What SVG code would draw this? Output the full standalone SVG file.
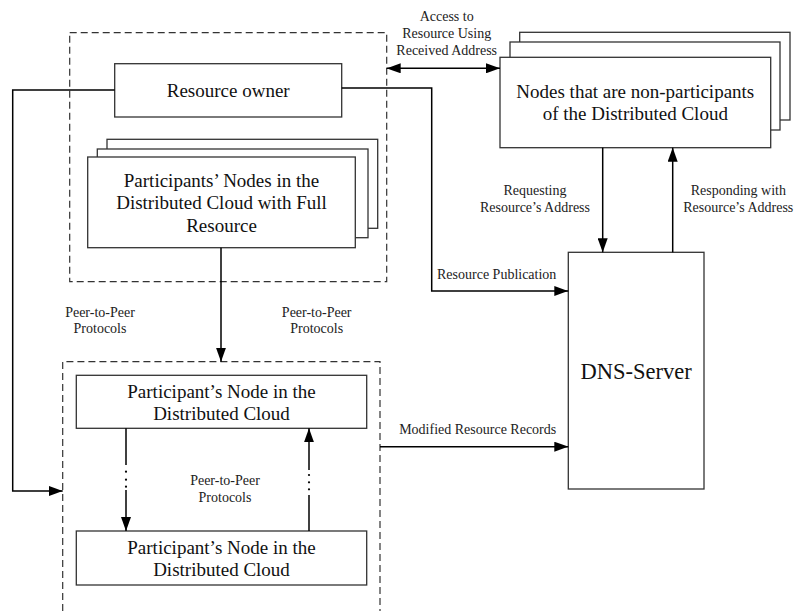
<svg xmlns="http://www.w3.org/2000/svg" width="795" height="611" viewBox="0 0 795 611">
  <style>
    .box { fill: #fff; stroke: #333; stroke-width: 1.3; }
    .group { fill: none; stroke: #333; stroke-width: 1.2; stroke-dasharray: 7 4; }
    .wire { fill: none; stroke: #000; stroke-width: 1.5; }
    .big { font-family: "Liberation Serif", "Times New Roman", serif; font-size: 19px; fill: #111; text-anchor: middle; }
    .dns { font-family: "Liberation Serif", "Times New Roman", serif; font-size: 22.5px; fill: #111; text-anchor: middle; }
    .small { font-family: "Liberation Serif", "Times New Roman", serif; font-size: 14px; fill: #222; text-anchor: middle; }
    .dot { fill: #000; }
  </style>
  <defs>
    <marker id="arrow" viewBox="0 0 14 10" refX="14" refY="5" markerWidth="14" markerHeight="10" markerUnits="userSpaceOnUse" orient="auto-start-reverse">
      <path d="M0,0 L14,5 L0,10 Z" fill="#000"/>
    </marker>
  </defs>

  <rect width="795" height="611" fill="#fff"/>

  <!-- dashed groupings -->
  <g id="cloud-owner-group">
    <rect class="group" x="69.7" y="32.7" width="317" height="249"/>
  </g>
  <g id="cloud-participants-group">
    <path class="group" d="M62.7,611 V361.7 H380 V611"/>
  </g>

  <!-- nodes -->
  <g id="resource-owner">
    <rect class="box" x="114.7" y="63.7" width="227" height="53.3"/>
    <text class="big" x="228.2" y="96.5">Resource owner</text>
  </g>

  <g id="full-resource-nodes">
    <rect class="box" x="107" y="139.3" width="270.7" height="89"/>
    <rect class="box" x="97.3" y="149" width="270.7" height="88.7"/>
    <rect class="box" x="87.7" y="157" width="267.6" height="90.7"/>
    <text class="big" x="221.5" y="186.5">Participants’ Nodes in the</text>
    <text class="big" x="221.5" y="209">Distributed Cloud with Full</text>
    <text class="big" x="221.5" y="231.5">Resource</text>
  </g>

  <g id="non-participants">
    <rect class="box" x="519.7" y="32.3" width="270.3" height="87.7"/>
    <rect class="box" x="510" y="42" width="270" height="88"/>
    <rect class="box" x="500" y="57.3" width="270.7" height="90.4"/>
    <text class="big" x="635.3" y="98">Nodes that are non-participants</text>
    <text class="big" x="635.3" y="120">of the Distributed Cloud</text>
  </g>

  <g id="dns-server">
    <rect class="box" x="568.3" y="252.3" width="135.7" height="236.7"/>
    <text class="dns" x="636.2" y="378.5">DNS-Server</text>
  </g>

  <g id="participant-node-1">
    <rect class="box" x="76.3" y="375.3" width="290.4" height="53"/>
    <text class="big" x="221.5" y="398">Participant’s Node in the</text>
    <text class="big" x="221.5" y="420">Distributed Cloud</text>
  </g>

  <g id="participant-node-2">
    <rect class="box" x="76.3" y="531" width="290.4" height="54"/>
    <text class="big" x="221.5" y="554">Participant’s Node in the</text>
    <text class="big" x="221.5" y="576">Distributed Cloud</text>
  </g>

  <!-- connectors -->
  <g id="connectors">
    <!-- owner to participant group (left loop) -->
    <path class="wire" d="M114.7,90 H12.7 V491 H62.7" marker-end="url(#arrow)"/>
    <!-- resource publication -->
    <path class="wire" d="M341.7,88 H431.7 V291 H568.3" marker-end="url(#arrow)"/>
    <!-- access to resource, both ways -->
    <path class="wire" d="M386.7,68.3 H500" marker-start="url(#arrow)" marker-end="url(#arrow)"/>
    <!-- full-resource nodes to participant group -->
    <path class="wire" d="M221,247.7 V361.7" marker-end="url(#arrow)"/>
    <!-- request / response with DNS -->
    <path class="wire" d="M602.7,147.7 V252.3" marker-end="url(#arrow)"/>
    <path class="wire" d="M672.7,252.3 V147.7" marker-end="url(#arrow)"/>
    <!-- modified records -->
    <path class="wire" d="M380,446.7 H568.3" marker-end="url(#arrow)"/>
    <!-- peer links between participant nodes, broken by an ellipsis -->
    <path class="wire" d="M126,428.3 V465"/>
    <path class="wire" d="M126,490 V531" marker-end="url(#arrow)"/>
    <circle class="dot" cx="126" cy="471.7" r="1.1"/>
    <circle class="dot" cx="126" cy="479.7" r="1.1"/>
    <circle class="dot" cx="126" cy="486.7" r="1.1"/>
    <path class="wire" d="M309,531 V495"/>
    <path class="wire" d="M309,470 V428.3" marker-end="url(#arrow)"/>
    <circle class="dot" cx="309" cy="475" r="1.1"/>
    <circle class="dot" cx="309" cy="482.3" r="1.1"/>
    <circle class="dot" cx="309" cy="489.3" r="1.1"/>
  </g>

  <!-- connector labels -->
  <g id="labels">
    <text class="small" x="446.7" y="21">Access to</text>
    <text class="small" x="446.7" y="38.3">Resource Using</text>
    <text class="small" x="446.7" y="55">Received Address</text>
    <text class="small" x="535" y="195">Requesting</text>
    <text class="small" x="535" y="211.7">Resource’s Address</text>
    <text class="small" x="738.3" y="195">Responding with</text>
    <text class="small" x="738.3" y="211.7">Resource’s Address</text>
    <text class="small" x="496.7" y="279">Resource Publication</text>
    <text class="small" x="100" y="316.7">Peer-to-Peer</text>
    <text class="small" x="100" y="333.3">Protocols</text>
    <text class="small" x="316.7" y="316.7">Peer-to-Peer</text>
    <text class="small" x="316.7" y="333.3">Protocols</text>
    <text class="small" x="225" y="485">Peer-to-Peer</text>
    <text class="small" x="225" y="501.7">Protocols</text>
    <text class="small" x="477.7" y="434.3">Modified Resource Records</text>
  </g>
</svg>
